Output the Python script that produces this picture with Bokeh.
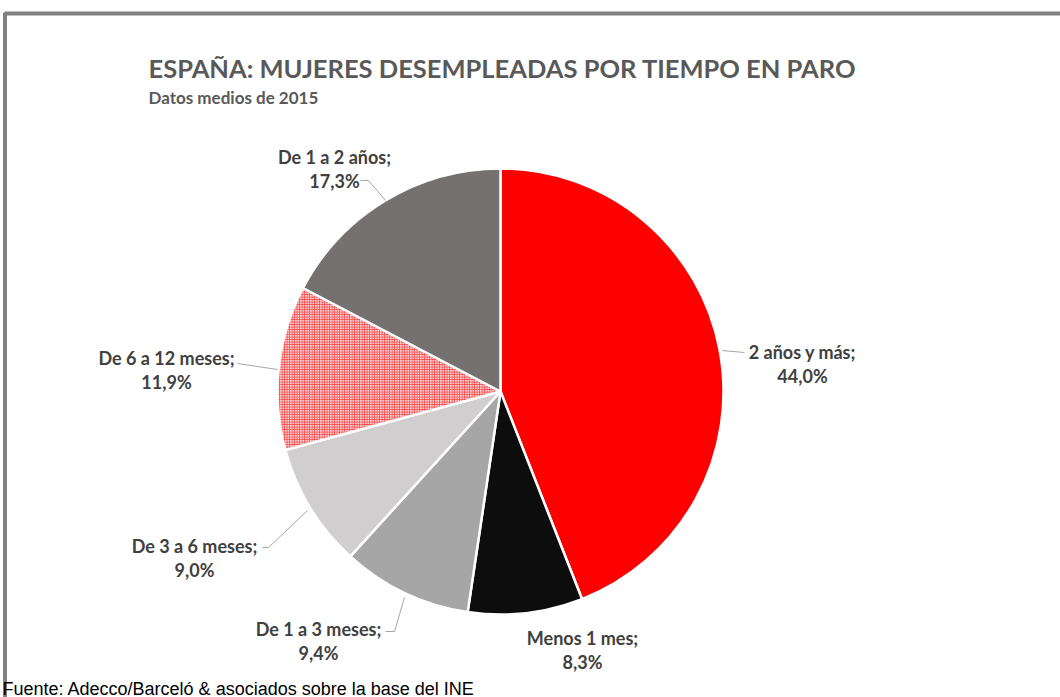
import math
from bokeh.plotting import figure
from bokeh.models import ColumnDataSource, Range1d
from bokeh.core.properties import value
from bokeh.embed import file_html
from bokeh.resources import INLINE

# ---- data ----
categories = ["2 años y más", "Menos 1 mes", "De 1 a 3 meses", "De 3 a 6 meses",
              "De 6 a 12 meses", "De 1 a 2 años"]
values = [44.0, 8.3, 9.4, 9.0, 11.9, 17.3]
colors = ["#FF0000", "#0D0D0D", "#A6A6A6", "#D0CECE", "#F9D4D4", "#767171"]
title_text = "ESPAÑA: MUJERES DESEMPLEADAS POR TIEMPO EN PARO"
subtitle_text = "Datos medios de 2015"
source_text = "Fuente: Adecco/Barceló & asociados sobre la base del INE"

W, H = 1060, 697
def sx(x):
    return x
def sy(y):
    return H - y

p = figure(width=W, height=H, output_backend="svg", toolbar_location=None,
           x_range=Range1d(0, W), y_range=Range1d(0, H), min_border=0)
p.axis.visible = False
p.grid.visible = False
p.outline_line_color = None
p.background_fill_color = "white"
p.border_fill_color = "white"

# frame (top and left visible)
p.line(x=[sx(4.5), sx(4.5), sx(1100)], y=[sy(800), sy(13), sy(13)],
       line_color="#808080", line_width=4)

# ---- pie ----
total = sum(values)
cx, cy, R = sx(500), sy(391), 223
starts, ends = [], []
cum = 0.0
for v in values:
    c0 = cum / total
    cum += v
    c1 = cum / total
    starts.append(math.pi / 2 - 2 * math.pi * c1)
    ends.append(math.pi / 2 - 2 * math.pi * c0)

src = ColumnDataSource(dict(cat=categories, val=values, color=colors,
                            start=starts, end=ends,
                            hatch=["blank", "blank", "blank", "blank", "+", "blank"]))
p.wedge(x=cx, y=cy, radius=R, radius_units="screen", start_angle="start",
        end_angle="end", fill_color="color", line_color="white", line_width=2.5,
        hatch_pattern="hatch", hatch_color="#FF3030", hatch_scale=2.5,
        hatch_weight=0.8, source=src)

# ---- labels ----
label_pos = [(802, 351), (582, 637), (318, 628), (194, 545), (166, 357), (334, 156)]
pct = [f"{v:.1f}".replace(".", ",") + "%" for v in values]
lx, ly, lt = [], [], []
for (x, y), c, pc in zip(label_pos, categories, pct):
    lx += [sx(x), sx(x)]
    ly += [sy(y), sy(y + 24)]
    lt += [c + ";", pc]
p.text(x=lx, y=ly, text=lt, text_align="center", text_baseline="middle",
       text_font=value("Lato"), text_font_style="bold", text_font_size="18px",
       text_color="#404040")

# leader lines
lead_xs = [[sx(722), sx(744)], [sx(385), sx(394), sx(404)], [sx(262), sx(268), sx(307)],
           [sx(237), sx(277)], [sx(360), sx(368), sx(385)]]
lead_ys = [[sy(350), sy(352)], [sy(631), sy(631), sy(597)], [sy(547), sy(547), sy(510)],
           [sy(363), sy(369)], [sy(180), sy(180), sy(200)]]
p.multi_line(xs=lead_xs, ys=lead_ys, line_color="#A6A6A6", line_width=1)

# ---- titles ----
p.text(x=[sx(148)], y=[sy(67)], text=[title_text], text_align="left",
       text_baseline="middle", text_font=value("Lato"), text_font_style="bold",
       text_font_size="25.5px", text_color="#595959")
p.text(x=[sx(148)], y=[sy(97)], text=[subtitle_text], text_align="left",
       text_baseline="middle", text_font=value("Lato"), text_font_style="bold",
       text_font_size="17px", text_color="#595959")
p.text(x=[sx(2)], y=[sy(688)], text=[source_text], text_align="left",
       text_baseline="middle", text_font=value("Liberation Sans"),
       text_font_size="18px", text_color="#000000")

open("out.html", "w").write(file_html(p, INLINE))
